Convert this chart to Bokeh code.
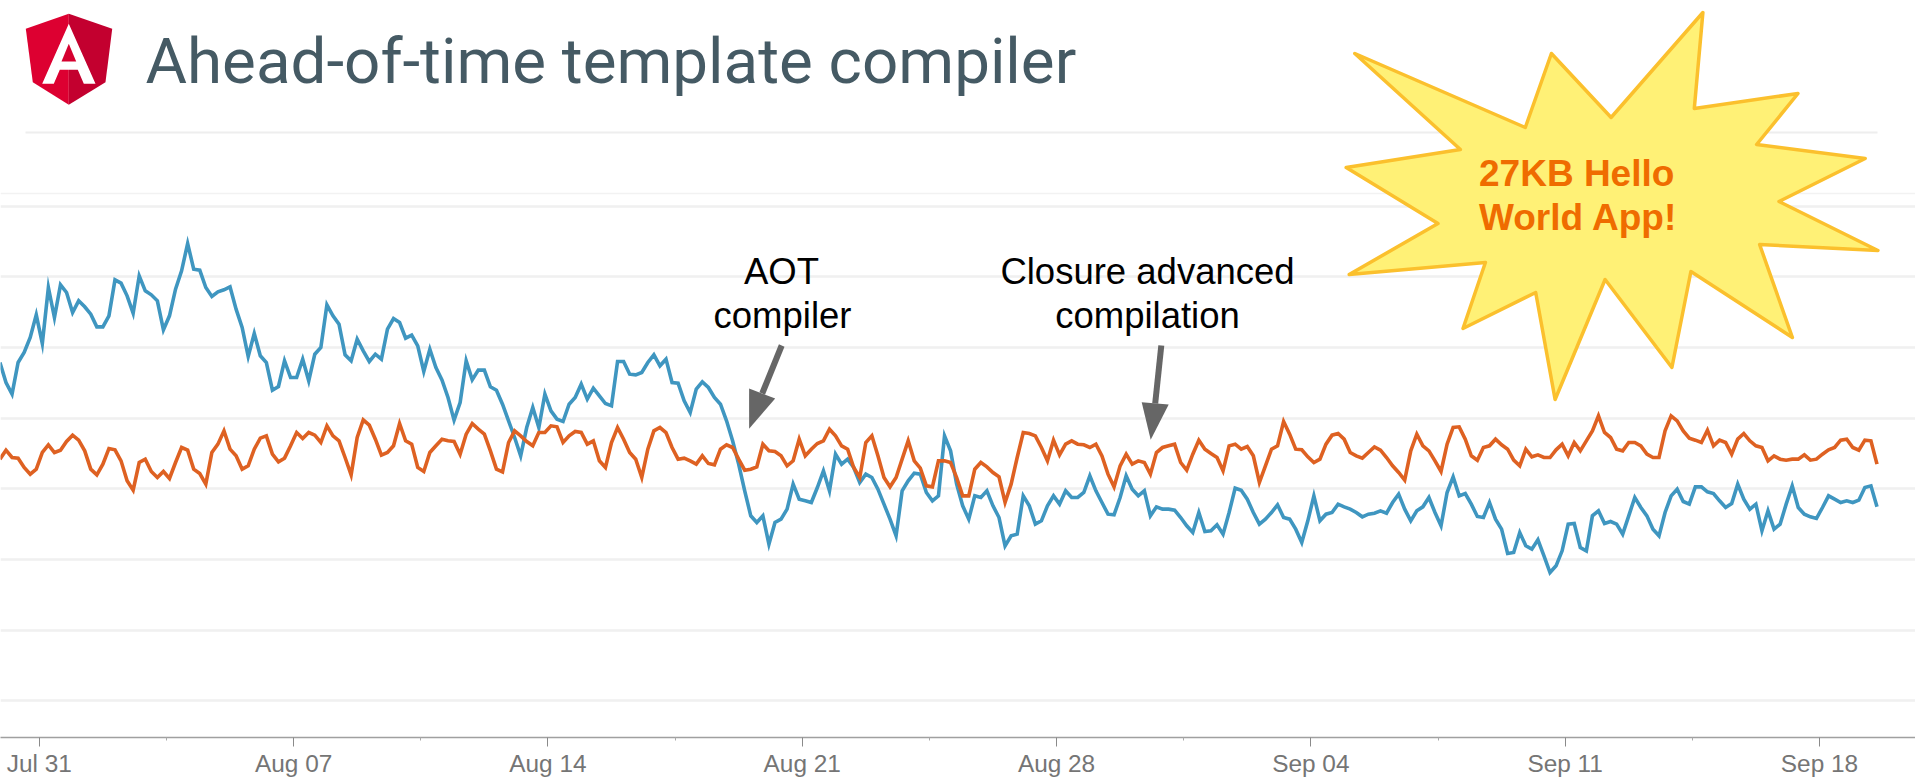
import numpy as np
import pandas as pd
from bokeh.core.properties import value
from bokeh.embed import file_html
from bokeh.models import DatetimeTickFormatter, FixedTicker, Range1d, Span
from bokeh.plotting import figure
from bokeh.resources import INLINE

# ---- data (size over time; one sample every 4 hours) ----
title = "Ahead-of-time template compiler"
first_sample = "2016-07-29 22:00"
sample_hours = 4
tick_dates = ["2016-07-31", "2016-08-07", "2016-08-14", "2016-08-21", "2016-08-28",
              "2016-09-04", "2016-09-11", "2016-09-18"]
minor_dates = ["2016-08-03 12:00", "2016-08-10 12:00", "2016-08-17 12:00", "2016-08-24 12:00",
               "2016-08-31 12:00", "2016-09-07 12:00", "2016-09-14 12:00"]
grid_values = [110, 322, 534, 746, 958, 1170, 1382, 1594]

blue_values = [
    1125,
    1065, 1030, 1125, 1155, 1200, 1268, 1182, 1350, 1260, 1358, 1335, 1275, 1310, 1292, 1270, 1232, 1232, 1265, 1373, 1363,
    1325, 1273, 1385, 1340, 1328, 1310, 1223, 1265, 1345, 1400, 1482, 1405, 1402, 1350, 1323, 1337, 1343, 1352, 1285, 1230,
    1143, 1212, 1145, 1125, 1042, 1053, 1130, 1080, 1080, 1135, 1070, 1150, 1170, 1298, 1265, 1240, 1148, 1130, 1195, 1160,
    1128, 1150, 1135, 1225, 1257, 1245, 1198, 1207, 1175, 1098, 1165, 1110, 1073, 1020, 952, 1005, 1130, 1073, 1102, 1102,
    1052, 1042, 1000, 950, 900, 845, 930, 990, 930, 1030, 980, 955, 948, 1000, 1020, 1060, 1015, 1048, 1025, 1002,
    995, 1128, 1128, 1090, 1088, 1095, 1125, 1148, 1115, 1135, 1065, 1063, 1010, 975, 1045, 1067, 1050, 1020, 1000, 950,
    890, 820, 740, 665, 645, 665, 580, 645, 655, 685, 760, 715, 710, 705, 750, 800, 740, 850, 820, 835,
    810, 765, 790, 780, 745, 700, 655, 605, 740, 770, 793, 790, 735, 710, 725, 905, 860, 760, 695, 655,
    725, 720, 740, 695, 660, 575, 605, 610, 725, 695, 640, 650, 695, 725, 700, 740, 720, 720, 735, 785,
    740, 705, 670, 668, 720, 785, 745, 725, 740, 665, 692, 685, 685, 682, 660, 635, 615, 675, 618, 620,
    638, 610, 675, 748, 742, 715, 675, 640, 655, 675,
    698, 660, 655, 625, 585, 650, 725, 650, 670, 675, 700, 692, 685, 675, 662, 670, 673, 680, 673, 705,
    730, 685, 650, 680, 692, 720, 675, 635, 735, 782, 725, 732, 700, 663, 660, 705, 655, 625, 552, 555,
    615, 575, 565, 593, 545, 495, 515, 560, 640, 642, 570, 560, 665, 680, 642, 648, 640, 610, 665, 720,
    690, 665, 625, 605, 675, 725, 745, 708, 700, 752, 752, 737, 732, 710, 690, 702, 760, 715, 685, 700,
    620, 680, 625, 640, 700, 755, 690, 670, 662, 657, 690, 725, 715, 705, 710, 705, 712, 750, 755, 692,
]
orange_values = [
    835,
    862, 840, 838, 810, 790, 805, 855, 878, 855, 862, 888, 907, 892, 860, 805, 788, 820, 867, 863, 830,
    770, 742, 825, 835, 798, 780, 798, 777, 825, 870, 862, 805, 792, 760, 855, 880, 920, 865, 845, 805,
    815, 865, 898, 905, 850, 827, 838, 875, 915, 897, 915, 907, 885, 935, 905, 890, 840, 788, 900, 953,
    937, 895, 847, 855, 875, 942, 890, 880, 810, 798, 855, 875, 895, 890, 888, 850, 910, 942, 925, 910,
    860, 805, 797, 885, 920, 905, 888, 875, 915, 915, 935, 932, 885, 905, 918, 915, 880, 890, 830, 810,
    885, 930, 895, 855, 835,
    780, 865, 920, 930, 915, 870, 835, 838, 830, 820, 845, 822, 818, 865, 878, 870, 835, 802, 805, 812,
    880, 860, 858, 845, 815, 830, 895, 845, 865, 882, 890, 925, 905, 875, 865, 810, 780, 885, 905, 845,
    780, 752, 780, 835, 890, 830, 808, 755, 752, 830, 830, 825, 780, 725, 725, 805, 825, 812, 795, 782,
    705, 760, 840, 915, 912, 905, 870, 830, 892, 848, 880, 890, 880, 878, 870, 880, 845, 790, 752, 815,
    850, 820, 830, 825, 790, 855, 870, 875, 880, 825, 802, 850, 892, 865, 852, 840, 800, 875, 880, 865,
    873, 845, 765, 815, 865, 875,
    948, 910, 865, 863, 842, 825, 835, 880, 907, 912, 895, 855, 845, 838, 855, 872, 862, 840, 815, 795,
    772, 860, 910, 875, 860, 830, 798, 880, 930, 932, 895, 845, 832, 870, 875, 895, 878, 865, 832, 815,
    865, 842, 848, 840, 840, 863, 880, 845, 885, 860, 890, 920, 965, 915, 900, 865, 860, 885, 885, 875,
    850, 840, 840, 920, 965, 950, 920, 898, 892, 885, 922, 875, 892, 885, 850, 895, 912, 890, 875, 870,
    830, 845, 835, 832, 835, 835, 848, 832, 835, 850, 863, 870, 892, 895, 870, 862, 892, 890, 820,
]

annotation_lines = [("AOT", 781, 271), ("compiler", 782, 315),
                    ("Closure advanced", 1147, 271), ("compilation", 1147, 315)]
callout_lines = [("27KB Hello", 173), ("World App!", 217)]

# ---- page geometry: reference pixels to data units ----
PAGE_MARGIN, WIDTH, FRAME_H = 0, 1915, 737
PX_PER_DAY = 36.33
T0 = pd.Timestamp(tick_dates[0])
MS = 86400000.0
T0_MS = T0.value / 1e6
AXIS_PY = PAGE_MARGIN + FRAME_H


def X(px):
    return T0_MS + (np.asarray(px, dtype=float) - 38.8) / PX_PER_DAY * MS


def Y(py):
    return (AXIS_PY - np.asarray(py, dtype=float)) * 3


def ms(dates):
    return [float(pd.Timestamp(d).value / 1e6) for d in dates]


p = figure(width=WIDTH, height=777, frame_height=FRAME_H, frame_width=WIDTH,
           x_axis_type="datetime", output_backend="svg", toolbar_location=None,
           min_border=0, outline_line_color=None, background_fill_color="white",
           border_fill_color="white",
           x_range=Range1d(float(X(PAGE_MARGIN)), float(X(PAGE_MARGIN + WIDTH))),
           y_range=Range1d(0, FRAME_H * 3))

p.yaxis.visible = False
p.xgrid.visible = False
p.ygrid.ticker = FixedTicker(ticks=grid_values)
p.ygrid.grid_line_color = "#f0f0f0"
p.ygrid.grid_line_width = 2.5

ax = p.xaxis[0]
ax.ticker = FixedTicker(ticks=ms(tick_dates), minor_ticks=ms(minor_dates))
ax.formatter = DatetimeTickFormatter(days="%b %d", months="%b %d", hours="%b %d",
                                     context=None)
ax.axis_line_color = "#a0a0a0"
ax.axis_line_width = 1.5
ax.major_tick_line_color = "#8a8a8a"
ax.minor_tick_line_color = "#aaaaaa"
ax.major_tick_out = 9
ax.major_tick_in = 0
ax.minor_tick_out = 3
ax.minor_tick_in = 0
ax.major_label_standoff = 3
ax.major_label_text_font = "Liberation Sans"
ax.major_label_text_font_size = "24.4px"
ax.major_label_text_color = "#757575"

p.add_layout(Span(location=float(Y(193)), dimension="width", line_color="#f2f2f2", line_width=1.5,
                  level="underlay"))
p.line(X([25, 1877]), Y([132, 132]), line_color="#eeeeee", line_width=2)

# series
start = pd.Timestamp(first_sample).value / 1e6
for vals, col in ((blue_values, "#3f96c0"), (orange_values, "#de6122")):
    xs = start + np.arange(len(vals)) * sample_hours * 3600000.0
    p.line(xs, vals, line_color=col, line_width=3.6, line_join="miter")

# title + logo
p.text(X([145]), Y([61]), text=[title], text_font=value("Roboto"), text_font_size="63.7px",
       text_color="#455a64", text_baseline="alphabetic", text_align="left")
p.patch(X([68.3, 25.3, 32.3, 68.3]), Y([13.3, 28.3, 81.7, 104.3]), fill_color="#dd0031", line_color=None)
p.patch(X([68.3, 111.7, 105, 68.3]), Y([13.3, 28.3, 81.7, 104.3]), fill_color="#c3002f", line_color=None)
p.patch(X([68.3, 95, 83.3, 77.3, 59.3, 53.3, 41.7]), Y([23.3, 83.3, 83.3, 69.3, 69.3, 83.3, 83.3]),
        fill_color="white", line_color=None)
p.patch(X([68.3, 61, 75.7]), Y([43.3, 61, 61]), fill_color="#d5002f", line_color=None)

# annotations
for txt, px, py in annotation_lines:
    p.text(X([px]), Y([py]), text=[txt], text_font=value("Liberation Sans"), text_font_size="36.5px",
           text_color="#000000", text_baseline="alphabetic", text_align="center")
p.line(X([781.2, 761.7]), Y([345, 393]), line_color="#666666", line_width=6)
p.patch(X([748.6, 748.6, 774.7]), Y([428.3, 388, 398]), fill_color="#666666", line_color=None)
p.line(X([1160.8, 1154.7]), Y([345, 403]), line_color="#666666", line_width=6)
p.patch(X([1150.2, 1141.2, 1168.2]), Y([439.3, 401.7, 404]), fill_color="#666666", line_color=None)

# star callout
star_px = [1354.3, 1524.8, 1550.9, 1610.6, 1702.4, 1693.8, 1797.5, 1756.1, 1864.7, 1778.5, 1877.4, 1759.1,
           1791.9, 1690.4, 1671.4, 1604.6, 1554.6, 1535.2, 1462.5, 1484.9, 1348.7, 1437.5, 1345.7, 1459.9]
star_py = [53, 127, 53, 117, 12, 108, 93, 144, 158, 201, 250, 244,
           337, 271, 367, 279, 399, 292, 328, 262, 274, 223, 167, 149]
p.patch(X(star_px), Y(star_py), fill_color="#fff176", line_color="#fbc02d", line_width=3.5, line_join="round")
for txt, py in callout_lines:
    p.text(X([1478.5]), Y([py]), text=[txt], text_font=value("Liberation Sans"), text_font_style="bold",
           text_font_size="37px", text_color="#ef6c00", text_baseline="alphabetic", text_align="left")

open("out.html", "w").write(file_html(p, INLINE))
